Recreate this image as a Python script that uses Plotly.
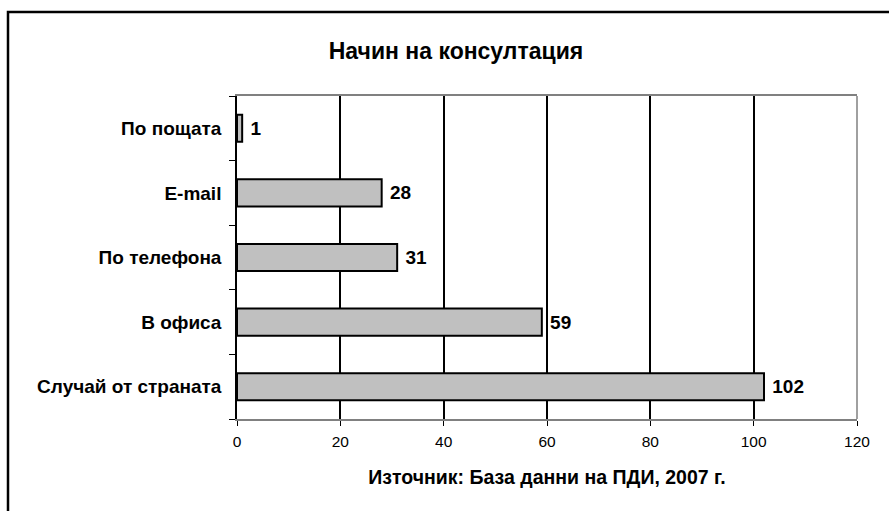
import plotly.graph_objects as go

categories = ["Случай от страната", "В офиса", "По телефона", "E-mail", "По пощата"]
values = [102, 59, 31, 28, 1]
x_ticks = [0, 20, 40, 60, 80, 100, 120]

title_text = "Начин на консултация"
source_text = "Източник: База данни на ПДИ, 2007 г."

FONT = "Arial, 'Liberation Sans', sans-serif"

W, H = 889, 511
L, R, T, B = 237, 857, 96, 419

fig = go.Figure()
fig.add_trace(go.Bar(
    y=categories,
    x=values,
    orientation="h",
    width=0.42,
    marker=dict(color="#C0C0C0", line=dict(color="#000000", width=2)),
    text=[str(v) for v in values],
    texttemplate=" %{text}",
    textposition="outside",
    textfont=dict(family=FONT, size=19, color="#000000", weight="bold"),
    cliponaxis=False,
    hoverinfo="skip",
))

def px_x(p):
    return (p - L) / (R - L)

def px_y(p):
    return (B - p) / (B - T)

fig.update_layout(
    width=W, height=H,
    margin=dict(l=L, r=W - R, t=T, b=H - B),
    paper_bgcolor="#FFFFFF",
    plot_bgcolor="#FFFFFF",
    showlegend=False,
    title=dict(
        text=title_text,
        x=456 / W, xanchor="center",
        y=1 - 51 / H, yanchor="middle",
        font=dict(family=FONT, size=23, color="#000000", weight="bold"),
    ),
    xaxis=dict(
        range=[0, 120],
        tickvals=x_ticks,
        ticktext=[str(v) for v in x_ticks],
        showgrid=True, gridcolor="#000000", gridwidth=1.5,
        zeroline=False,
        showline=True, linecolor="#808080", linewidth=1.5, mirror=True,
        ticks="outside", ticklen=5, tickcolor="#000000", tickwidth=1,
        tickfont=dict(family=FONT, size=15.5, color="#000000"),
        ticklabelstandoff=3,
        title=dict(text=source_text, standoff=21,
                   font=dict(family=FONT, size=19.5, color="#000000", weight="bold")),
        fixedrange=True,
    ),
    yaxis=dict(
        categoryorder="array", categoryarray=categories,
        showgrid=False, zeroline=False,
        showline=True, linecolor="#000000", linewidth=1.5,
        ticks="outside", tickson="boundaries", ticklen=6, tickcolor="#000000", tickwidth=1,
        tickfont=dict(family=FONT, size=19, color="#000000", weight="bold"),
        ticklabelstandoff=10,
        fixedrange=True,
    ),
    shapes=[
        dict(type="line", xref="paper", yref="paper", x0=1, x1=1, y0=0, y1=1,
             line=dict(color="#808080", width=1.5), layer="above"),
        dict(type="rect", xref="paper", yref="paper",
             x0=px_x(8), x1=px_x(900), y0=px_y(530), y1=px_y(12),
             line=dict(color="#000000", width=2.5), layer="above"),
    ],
)

fig.write_html("out.html", config={"displayModeBar": False},
               post_script="document.body.style.margin='0';document.body.style.overflow='hidden';")
